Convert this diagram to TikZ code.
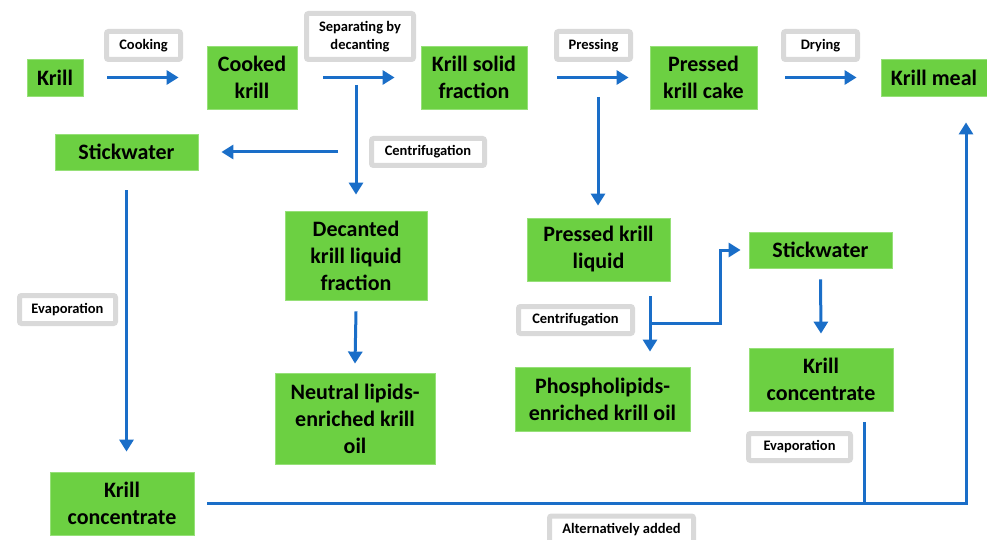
\documentclass[tikz,border=0pt]{standalone}
\usepackage{fontspec}
\setmainfont{Carlito}
\usetikzlibrary{arrows.meta,calc}
\definecolor{boxgreen}{RGB}{108,208,66}
\definecolor{boxedge}{RGB}{150,224,120}
\definecolor{lblgray}{RGB}{217,217,217}
\definecolor{flowblue}{RGB}{26,110,200}
\tikzset{
  stage/.style={fill=boxgreen, draw=boxedge, line width=0.8pt, inner sep=0pt, align=center,
    font=\fontsize{22}{27}\selectfont\bfseries, text=black},
  lbl/.style={fill=white, draw=lblgray, line width=5pt, rounded corners=2pt, inner sep=0pt, align=center,
    font=\fontsize{14.5}{17.7}\selectfont\bfseries, text=black},
  arr/.style={draw=flowblue, line width=3pt, -{Triangle[length=12pt,width=14pt]}},
  ln/.style={draw=flowblue, line width=3pt}
}
\begin{document}
\begin{tikzpicture}[x=1pt,y=-1pt]
\useasboundingbox (0,0) rectangle (987,540);
\begin{scope}
\clip (0,0) rectangle (987,540);
% stage boxes
\node[stage, minimum width=56, minimum height=37] (krill) at (55,77.5) {Krill};
\node[stage, minimum width=90, minimum height=63] (cooked) at (252,77.5) {Cooked\\krill};
\node[stage, minimum width=106, minimum height=63] (solid) at (474,77.5) {Krill solid\\fraction};
\node[stage, minimum width=107, minimum height=63] (cake) at (703.5,77.5) {Pressed\\krill cake};
\node[stage, minimum width=106, minimum height=37] (meal) at (934,77.5) {Krill meal};
\node[stage, minimum width=143, minimum height=36] (stickL) at (126.5,152) {Stickwater};
\node[stage, minimum width=142, minimum height=89] (decanted) at (356,255.5) {Decanted\\krill liquid\\fraction};
\node[stage, minimum width=160, minimum height=91] (neutral) at (355,418.5) {Neutral lipids-\\enriched krill\\oil};
\node[stage, minimum width=143, minimum height=63] (pliq) at (598.5,249.5) {Pressed krill\\liquid};
\node[stage, minimum width=143, minimum height=36] (stickR) at (820.5,250) {Stickwater};
\node[stage, minimum width=175, minimum height=64] (phospho) at (602.5,399) {Phospholipids-\\enriched krill oil};
\node[stage, minimum width=144, minimum height=63] (concR) at (821,379.5) {Krill\\concentrate};
\node[stage, minimum width=144, minimum height=63] (concL) at (122,503.5) {Krill\\concentrate};
% labels
\node[lbl, minimum width=74, minimum height=28] (lcook) at (143.5,45.5) {Cooking};
\node[lbl, minimum width=107, minimum height=46] (lsep) at (360,36.5) {Separating by\\decanting};
\node[lbl, minimum width=113, minimum height=27] (lcenM) at (428,152) {Centrifugation};
\node[lbl, minimum width=74, minimum height=28] (lpress) at (593.5,45.5) {Pressing};
\node[lbl, minimum width=74, minimum height=28] (ldry) at (820.5,45.5) {Drying};
\node[lbl, minimum width=96, minimum height=28] (levapL) at (67.5,309.5) {Evaporation};
\node[lbl, minimum width=114, minimum height=27] (lcenR) at (575.5,320) {Centrifugation};
\node[lbl, minimum width=102, minimum height=27] (levapR) at (799.5,447) {Evaporation};
\node[lbl, minimum width=144, minimum height=27] (lalt) at (621.5,529.5) {Alternatively added};
% main chain
\draw[arr] ([xshift=24]krill.east) -- ([xshift=-28]cooked.west);
\draw[arr] ([xshift=26]cooked.east) -- ([xshift=-26]solid.west);
\draw[arr] ([xshift=30]solid.east) -- ([xshift=-21]cake.west);
\draw[arr] ([xshift=28]cake.east) -- ([xshift=-24]meal.west);
% decanting branch
\coordinate (j1) at (356,85);
\draw[arr] (j1) -- ($(j1 |- decanted.north)+(0,-16)$);
\coordinate (j2) at (338,152);
\draw[arr] (j2) -- ([xshift=23]stickL.east);
\draw[arr] ([yshift=-20]stickL.south) -- ($(stickL.south |- concL.north)+(0,-20)$);
\draw[arr] ([yshift=-11]decanted.south) -- ([yshift=9]neutral.north);
% pressing branch
\coordinate (j3) at (598,97);
\draw[arr] (j3) -- ($(j3 |- pliq.north)+(0,-12)$);
\coordinate (j4) at (650,296);
\draw[arr] (j4) -- ($(j4 |- phospho.north)+(0,-15)$);
\coordinate (j5) at (650,323);
\coordinate (j6) at (720,323);
\draw[ln, -{Triangle[length=12pt,width=14pt]}] (j5) -- (j6) -- (j6 |- stickR.west) -- ([xshift=-8]stickR.west);
\draw[arr] ([yshift=-11]stickR.south) -- ([yshift=14]concR.north);
% bottom return line
\coordinate (c1) at (966,503);
\coordinate (c2) at (864,503);
\draw[ln] ($(c2 |- concR.south)+(0,11)$) -- (c2);
\draw[arr] ([xshift=13]concL.east |- c1) -- (c1) -- ($(c1 |- meal.south)+(0,26)$);
\end{scope}
\end{tikzpicture}
\end{document}
